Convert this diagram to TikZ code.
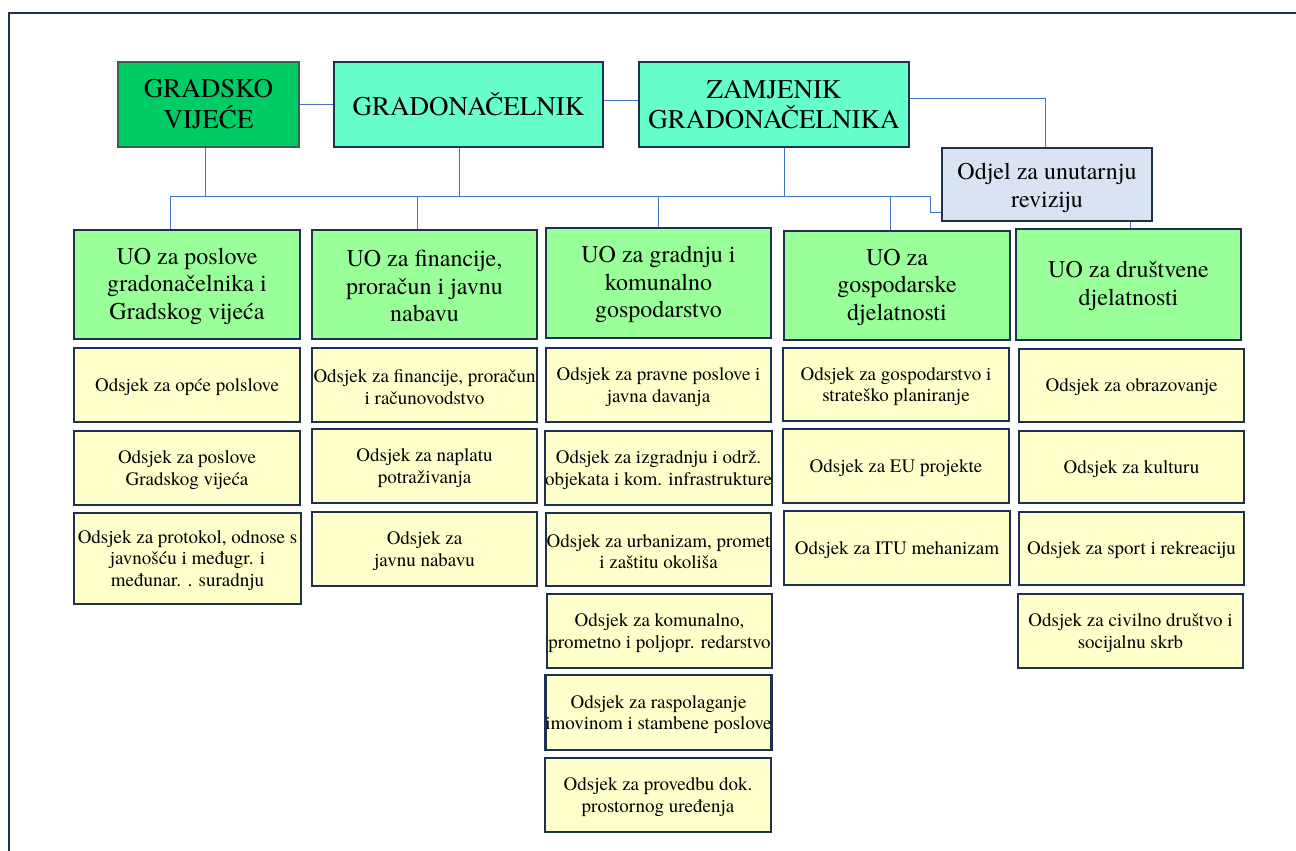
\documentclass[tikz,border=0pt]{standalone}
\usepackage{fontspec}
\setmainfont{texgyretermes}[Extension=.otf,UprightFont=*-regular,BoldFont=*-bold,ItalicFont=*-italic,BoldItalicFont=*-bolditalic]
\usetikzlibrary{backgrounds}
\definecolor{navy}{HTML}{1F3050}
\definecolor{conn}{HTML}{4472C4}
\definecolor{gvfill}{HTML}{00CC66}
\definecolor{gvdraw}{HTML}{3E5E4E}
\definecolor{topfill}{HTML}{66FFCC}
\definecolor{uofill}{HTML}{99FF99}
\definecolor{odfill}{HTML}{FFFFCC}
\definecolor{revfill}{HTML}{DAE3F3}
% name, style, x1, y1, x2, y2, strut height (em), text
\newcommand\bxn[8]{\node[#2, minimum width={#5-#3-2.3}, minimum height={#6-#4-2.3}] (#1) at ({(#3+#5)/2},{(#4+#6)/2}) {\rule{0pt}{#7em}#8};}
\begin{document}
\begin{tikzpicture}[x=1pt,y=-1pt,
  bx/.style={draw=navy, line width=2.3pt, inner sep=0pt, align=center, text=black},
  topbox/.style={bx, fill=topfill, font=\fontsize{27}{29.5}\selectfont},
  gvbox/.style={bx, draw=gvdraw, line width=1.6pt, fill=gvfill, font=\fontsize{27}{31}\selectfont},
  revbox/.style={bx, fill=revfill, font=\fontsize{24}{28}\selectfont},
  uobox/.style={bx, fill=uofill, font=\fontsize{24}{27.7}\selectfont},
  odbox/.style={bx, fill=odfill, font=\fontsize{19}{21.5}\selectfont},
  link/.style={draw=conn, line width=1pt},
  frame/.style={draw=navy, line width=2.2pt}
]
\useasboundingbox (0,0) rectangle (1296,851);
\draw[frame] (9,880) -- (9,13) -- (1320,13);

% top level
\bxn{gv}{gvbox}{117}{61}{300}{148}{0}{GRADSKO\\VIJEĆE}
\bxn{gn}{topbox}{333}{61}{604}{148}{0}{GRADONAČELNIK}
\bxn{zg}{topbox}{638}{61}{910}{148}{0}{ZAMJENIK\\GRADONAČELNIKA}
\bxn{rev}{revbox}{941}{147}{1153}{222}{1.0}{Odjel za unutarnju\\reviziju}

% UO level
\bxn{u1}{uobox}{73}{229}{301}{340}{0.82}{UO za poslove\\gradonačelnika i\\Gradskog vijeća}
\bxn{u2}{uobox}{311}{229}{538}{340}{0.82}{UO za financije,\\proračun i javnu\\nabavu}
\bxn{u3}{uobox}{545}{227}{772}{339}{0.82}{UO za gradnju i\\komunalno\\gospodarstvo}
\bxn{u4}{uobox}{783}{230}{1011}{341}{0.82}{UO za\\gospodarske\\djelatnosti}
\bxn{u5}{uobox}{1015}{228}{1242}{341}{0.82}{UO za društvene\\djelatnosti}

% column 1
\bxn{c1a}{odbox}{73}{347}{301}{423}{0.9}{Odsjek za opće polslove}
\bxn{c1b}{odbox}{73}{430}{301}{506}{0.9}{Odsjek za poslove\\Gradskog vijeća}
\bxn{c1c}{odbox}{73}{512}{302}{605}{0.9}{Odsjek za protokol, odnose s\\javnošću i međugr. i\\međunar. . suradnju}
% column 2
\bxn{c2a}{odbox}{311}{347}{538}{423}{0.9}{Odsjek za financije, proračun\\i računovodstvo}
\bxn{c2b}{odbox}{311}{428}{538}{504}{0.9}{Odsjek za naplatu\\potraživanja}
\bxn{c2c}{odbox}{311}{511}{538}{587}{0.9}{Odsjek za\\javnu nabavu}
% column 3
\bxn{c3a}{odbox}{545}{347}{772}{423}{0.9}{Odsjek za pravne poslove i\\javna davanja}
\bxn{c3b}{odbox}{545}{430}{772}{506}{0.9}{Odsjek za izgradnju i održ.\\objekata i kom. infrastrukture}
\bxn{c3c}{odbox}{545}{512}{772}{587}{0.9}{Odsjek za urbanizam, promet\\i zaštitu okoliša}
\bxn{c3d}{odbox}{546}{593}{773}{669}{0.9}{Odsjek za komunalno,\\prometno i poljopr. redarstvo}
\bxn{c3e}{odbox}{545}{674}{772}{751}{0.9}{Odsjek za raspolaganje\\imovinom i stambene poslove}
\bxn{c3f}{odbox}{544}{757}{772}{833}{0.9}{Odsjek za provedbu dok.\\prostornog uređenja}
% column 4
\bxn{c4a}{odbox}{782}{347}{1010}{422}{0.9}{Odsjek za gospodarstvo i\\strateško planiranje}
\bxn{c4b}{odbox}{782}{428}{1010}{504}{0.9}{Odsjek za EU projekte}
\bxn{c4c}{odbox}{783}{510}{1011}{586}{0.9}{Odsjek za ITU mehanizam}
% column 5
\bxn{c5a}{odbox}{1018}{348}{1245}{423}{0.9}{Odsjek za obrazovanje}
\bxn{c5b}{odbox}{1018}{430}{1245}{504}{0.9}{Odsjek za kulturu}
\bxn{c5c}{odbox}{1018}{511}{1245}{586}{0.9}{Odsjek za sport i rekreaciju}
\bxn{c5d}{odbox}{1017}{593}{1244}{669}{0.9}{Odsjek za civilno društvo i\\socijalnu skrb}

% connectors
\coordinate (b1) at (170,196);
\coordinate (b2) at (417,196);
\coordinate (b4) at (890,196);
\coordinate (b5) at (930,196);
\coordinate (b6) at (930,212);
\coordinate (zr) at (1045,98);
\begin{scope}[on background layer]
\draw[link] (gv) -- (gn);
\draw[link] ([yshift=4.5pt]gn.east) -- ([yshift=4.5pt]zg.west);
\draw[link] ([yshift=6.5pt]zg.east) -- (zr) -- (zr |- rev.north);
\draw[link] ([xshift=-3pt]gv.south) -- ([xshift=-3pt]gv.south |- b1);
\draw[link] ([xshift=-9.5pt]gn.south) -- ([xshift=-9.5pt]gn.south |- b1);
\draw[link] ([xshift=10pt]zg.south) -- ([xshift=10pt]zg.south |- b1);
\draw[link] (b1) -- (b5) -- (b6) -- (b6 -| rev.west);
\draw[link] (b1) -- (b1 |- u1.north);
\draw[link] (b2) -- (b2 |- u2.north);
\draw[link] (u3.north |- b1) -- (u3.north);
\draw[link] (b4) -- (b4 |- u4.north);
\draw[link] ([xshift=1.5pt]u5.north |- rev.south) -- ([xshift=1.5pt]u5.north);
\end{scope}
\end{tikzpicture}
\end{document}
